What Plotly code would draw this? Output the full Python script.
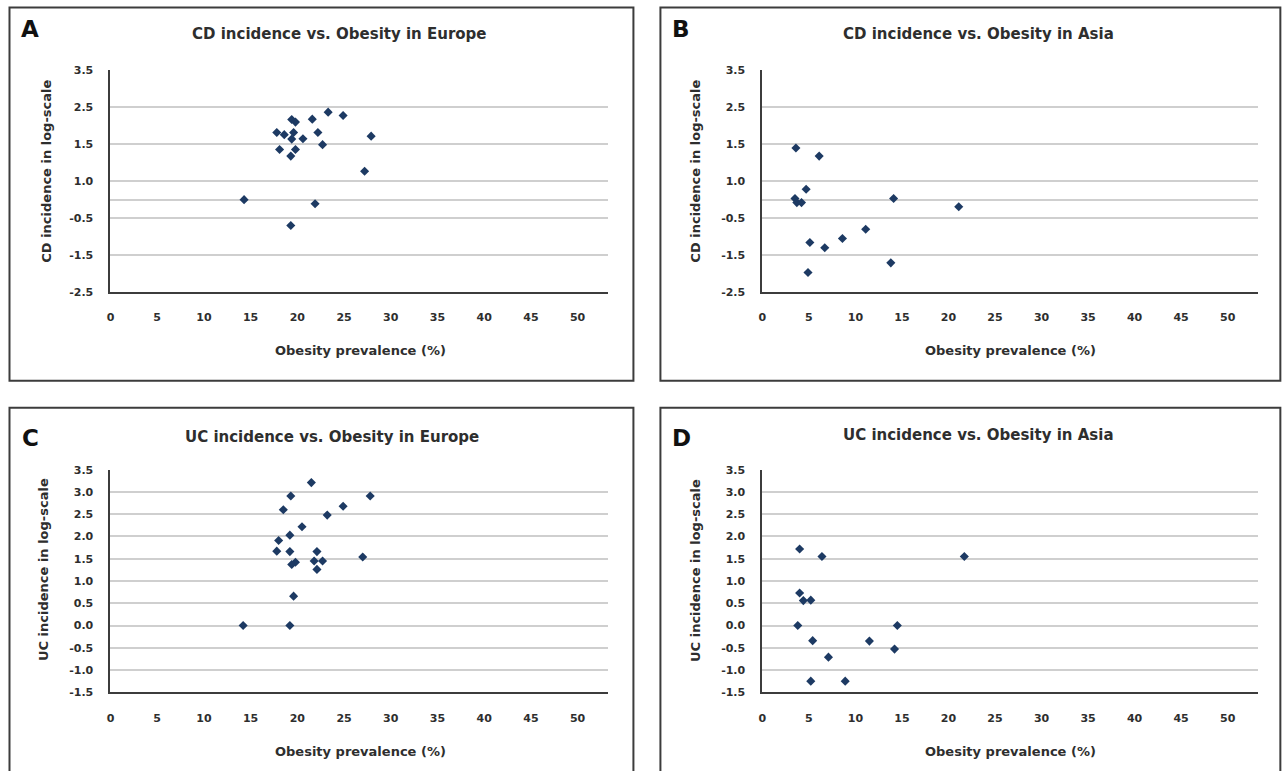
import plotly.graph_objects as go

W, H = 1283, 778

# ---------------- data ----------------
# Panel A: CD incidence vs obesity, Europe (y in plotted position units)
a_obesity = [14.3, 17.8, 18.6, 19.4, 19.8, 19.6, 19.4, 20.6, 18.1, 19.8,
             19.3, 21.6, 22.2, 22.7, 23.3, 24.9, 27.9, 27.2, 21.9, 19.3]
a_cd = [0.0, 1.82, 1.76, 2.17, 2.10, 1.82, 1.64, 1.65, 1.36, 1.36,
        1.18, 2.18, 1.82, 1.49, 2.37, 2.28, 1.72, 0.77, -0.11, -0.70]

# Panel B: CD incidence vs obesity, Asia
b_obesity = [3.6, 6.1, 4.7, 3.5, 3.7, 4.2, 14.1, 11.1, 8.6, 5.1,
             6.7, 13.8, 4.9, 21.1]
b_cd = [1.40, 1.18, 0.28, 0.03, -0.08, -0.08, 0.03, -0.80, -1.05, -1.16,
        -1.30, -1.71, -1.97, -0.19]

# Panel C: UC incidence vs obesity, Europe
c_obesity = [21.5, 19.3, 27.8, 18.5, 24.9, 23.2, 20.5, 19.2, 18.0, 17.8,
             19.2, 22.1, 27.0, 19.8, 19.4, 21.8, 22.7, 22.1, 19.6, 14.2, 19.2]
c_uc = [3.21, 2.91, 2.91, 2.60, 2.68, 2.48, 2.22, 2.03, 1.91, 1.67,
        1.66, 1.66, 1.54, 1.42, 1.37, 1.45, 1.45, 1.26, 0.66, 0.0, 0.0]

# Panel D: UC incidence vs obesity, Asia
d_obesity = [4.0, 6.4, 21.7, 4.0, 4.4, 5.2, 3.8, 14.5, 5.4, 11.5,
             14.2, 7.1, 5.2, 8.9]
d_uc = [1.72, 1.55, 1.55, 0.73, 0.56, 0.57, 0.0, 0.0, -0.34, -0.35,
        -0.53, -0.71, -1.25, -1.25]

x_ticks = [0, 5, 10, 15, 20, 25, 30, 35, 40, 45, 50]
cd_tickvals = [3.5, 2.5, 1.5, 0.5, 0.0, -0.5, -1.5, -2.5]
cd_ticktext = ["3.5", "2.5", "1.5", "1.0", "", "-0.5", "-1.5", "-2.5"]
uc_tickvals = [3.5, 3.0, 2.5, 2.0, 1.5, 1.0, 0.5, 0.0, -0.5, -1.0, -1.5]
uc_ticktext = ["3.5", "3.0", "2.5", "2.0", "1.5", "1.0", "0.5", "0.0", "-0.5", "-1.0", "-1.5"]

titles = ["CD incidence vs. Obesity in Europe", "CD incidence vs. Obesity in Asia",
          "UC incidence vs. Obesity in Europe", "UC incidence vs. Obesity in Asia"]
letters = ["A", "B", "C", "D"]
ytitles = ["CD incidence in log-scale", "CD incidence in log-scale",
           "UC incidence in log-scale", "UC incidence in log-scale"]
xtitle = "Obesity prevalence (%)"

# ---------------- layout helpers ----------------
FONT = "DejaVu Sans, Verdana, sans-serif"
TXT = "#2e2e2e"
MARK = "#1d3a63"

def px(x):
    return ((x - 3.5) / 0.997) / W

def py(y):
    return 1 - ((y - 5.5) / 0.985) / H

panels = [
    dict(x0=110, x1=608, y0=70, y1=292),
    dict(x0=762, x1=1258, y0=70, y1=292),
    dict(x0=110, x1=608, y0=470, y1=693),
    dict(x0=762, x1=1258, y0=470, y1=693),
]
series = [(a_obesity, a_cd), (b_obesity, b_cd), (c_obesity, c_uc), (d_obesity, d_uc)]
yticks = [(cd_tickvals, cd_ticktext, [-2.5, 3.5]), (cd_tickvals, cd_ticktext, [-2.5, 3.5]),
          (uc_tickvals, uc_ticktext, [-1.5, 3.5]), (uc_tickvals, uc_ticktext, [-1.5, 3.5])]

fig = go.Figure()
layout = dict(width=W, height=H, margin=dict(l=0, r=0, t=0, b=0), autosize=False,
              paper_bgcolor="white", plot_bgcolor="white", showlegend=False,
              font=dict(family=FONT, color=TXT))

tickfont = dict(family=FONT, size=11, color=TXT, weight="bold")
for i, (p, (xs, ys), (tv, tt, yr)) in enumerate(zip(panels, series, yticks)):
    n = "" if i == 0 else str(i + 1)
    fig.add_trace(go.Scatter(x=xs, y=ys, mode="markers",
                             marker=dict(symbol="diamond", size=7, color=MARK, line=dict(width=0)),
                             xaxis="x" + n, yaxis="y" + n, hoverinfo="skip"))
    layout["xaxis" + n] = dict(domain=[px(p["x0"]), px(p["x1"])], range=[0, 53.3],
                               anchor="y" + n, tickvals=x_ticks, showgrid=False, zeroline=False,
                               showline=True, linecolor="#3c3c3c", linewidth=2,
                               ticks="outside", ticklen=14, tickcolor="rgba(0,0,0,0)",
                               tickfont=tickfont)
    layout["yaxis" + n] = dict(domain=[py(p["y1"]), py(p["y0"])], range=yr,
                               anchor="x" + n, tickvals=tv, ticktext=tt, showgrid=True,
                               gridcolor="#cfcfcf", gridwidth=2, zeroline=False,
                               showline=True, linecolor="#3c3c3c", linewidth=2,
                               ticks="outside", ticklen=13, tickcolor="rgba(0,0,0,0)",
                               tickfont=tickfont)

# frames (lower frames run off the bottom edge, as in the reference)
boxes = [(9, 7, 633, 381), (660, 7, 1280, 381), (9, 408, 633, 790), (660, 408, 1280, 790)]
shapes = []
for k, (x0, y0, x1, y1) in enumerate(boxes):
    if k < 2:
        shapes.append(dict(type="rect", xref="paper", yref="paper",
                           x0=px(x0), x1=px(x1), y0=py(y1), y1=py(y0),
                           line=dict(color="#3c3c3c", width=2), fillcolor="rgba(0,0,0,0)"))
    else:
        pts = [(x0, y1), (x0, y0), (x1, y0), (x1, y1)]
        path = "M " + " L ".join(f"{px(a):.5f},{max(py(b), 0.0):.5f}" for a, b in pts)
        shapes.append(dict(type="path", xref="paper", yref="paper", path=path,
                           line=dict(color="#3c3c3c", width=2)))
layout["shapes"] = shapes

ann = []
title_pos = [(339, 34), (978, 34), (332, 437), (978, 435)]
letter_pos = [(30, 29), (681, 29), (30, 438), (681, 438)]
ytitle_pos = [(46, 171), (695, 171), (43, 570), (695, 571)]
xtitle_pos = [(360, 351), (1010, 351), (360, 752), (1010, 752)]
for i in range(4):
    ann.append(dict(text=titles[i], x=px(title_pos[i][0]), y=py(title_pos[i][1]),
                    xref="paper", yref="paper", showarrow=False, xanchor="center", yanchor="middle",
                    font=dict(family=FONT, size=15, color=TXT, weight="bold")))
    ann.append(dict(text=letters[i], x=px(letter_pos[i][0]), y=py(letter_pos[i][1]),
                    xref="paper", yref="paper", showarrow=False, xanchor="center", yanchor="middle",
                    font=dict(family=FONT, size=23, color="#111111", weight="bold")))
    ann.append(dict(text=ytitles[i], x=px(ytitle_pos[i][0]), y=py(ytitle_pos[i][1]),
                    xref="paper", yref="paper", showarrow=False, xanchor="center", yanchor="middle",
                    textangle=-90, font=dict(family=FONT, size=13, color=TXT, weight="bold")))
    ann.append(dict(text=xtitle, x=px(xtitle_pos[i][0]), y=py(xtitle_pos[i][1]),
                    xref="paper", yref="paper", showarrow=False, xanchor="center", yanchor="middle",
                    font=dict(family=FONT, size=13, color=TXT, weight="bold")))
layout["annotations"] = ann

fig.update_layout(**layout)

fig.write_html("out.html", config={"displayModeBar": False, "staticPlot": True},
               post_script="document.body.style.margin='0';document.body.style.overflow='hidden';")
